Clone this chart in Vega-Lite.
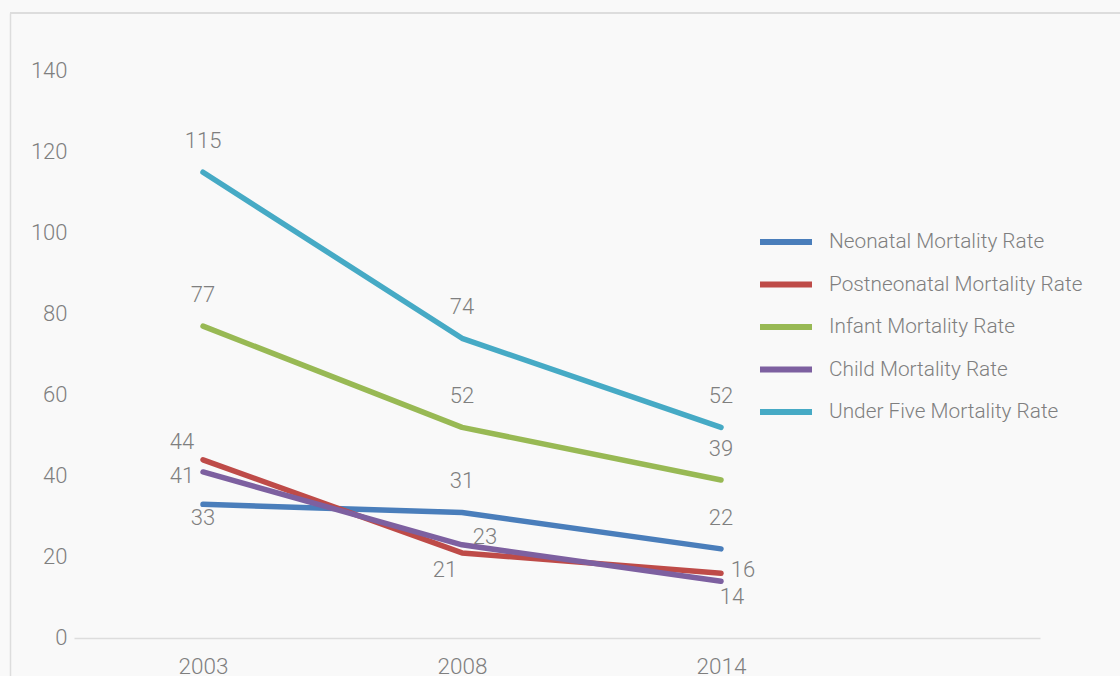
{
  "$schema": "https://vega.github.io/schema/vega-lite/v6.json",
  "width": 1110,
  "height": 663,
  "autosize": "none",
  "padding": {"left": 10, "top": 13, "right": 0, "bottom": 0},
  "background": "#f9f9f9",
  "config": {
    "view": {"stroke": null},
    "font": "Roboto",
    "text": {"font": "Roboto", "fontWeight": 300}
  },
  "data": {
    "values": [
      {"series": "Neonatal Mortality Rate", "year": "2003", "value": 33},
      {"series": "Neonatal Mortality Rate", "year": "2008", "value": 31},
      {"series": "Neonatal Mortality Rate", "year": "2014", "value": 22},
      {"series": "Postneonatal Mortality Rate", "year": "2003", "value": 44},
      {"series": "Postneonatal Mortality Rate", "year": "2008", "value": 21},
      {"series": "Postneonatal Mortality Rate", "year": "2014", "value": 16},
      {"series": "Infant Mortality Rate", "year": "2003", "value": 77},
      {"series": "Infant Mortality Rate", "year": "2008", "value": 52},
      {"series": "Infant Mortality Rate", "year": "2014", "value": 39},
      {"series": "Child Mortality Rate", "year": "2003", "value": 41},
      {"series": "Child Mortality Rate", "year": "2008", "value": 23},
      {"series": "Child Mortality Rate", "year": "2014", "value": 14},
      {"series": "Under Five Mortality Rate", "year": "2003", "value": 115},
      {"series": "Under Five Mortality Rate", "year": "2008", "value": 74},
      {"series": "Under Five Mortality Rate", "year": "2014", "value": 52}
    ]
  },
  "encoding": {
    "x": {
      "field": "year",
      "type": "ordinal",
      "scale": {"type": "point", "range": [64, 1030], "padding": 0.8649, "align": 0.288},
      "axis": {
        "title": null,
        "orient": "bottom",
        "offset": -38,
        "domainColor": "#dddddd",
        "domainWidth": 1.5,
        "ticks": false,
        "labelAngle": 0,
        "labelFontSize": 22.5,
        "labelFont": "Roboto",
        "labelFontWeight": 300,
        "labelColor": "#7f7f7f",
        "labelPadding": 17
      }
    },
    "y": {
      "field": "value",
      "type": "quantitative",
      "scale": {"domain": [-9.383, 154.32], "nice": false, "zero": false},
      "axis": {
        "title": null,
        "values": [0, 20, 40, 60, 80, 100, 120, 140],
        "grid": false,
        "ticks": false,
        "domainColor": "#dddddd",
        "domainWidth": 1.5,
        "labelPadding": -57,
        "labelFontSize": 22,
        "labelFont": "Roboto",
        "labelFontWeight": 300,
        "labelColor": "#7f7f7f"
      }
    }
  },
  "layer": [
    {
      "mark": {"type": "rule", "color": "#dddddd", "strokeWidth": 1.5},
      "encoding": {"x": null, "y": {"datum": 154.32, "type": "quantitative"}}
    },
    {
      "mark": {"type": "line", "strokeWidth": 5.5, "strokeCap": "round", "strokeJoin": "round"},
      "encoding": {
        "color": {
          "field": "series",
          "type": "nominal",
          "sort": ["Neonatal Mortality Rate", "Postneonatal Mortality Rate", "Infant Mortality Rate", "Child Mortality Rate", "Under Five Mortality Rate"],
          "scale": {
            "domain": ["Neonatal Mortality Rate", "Postneonatal Mortality Rate", "Infant Mortality Rate", "Child Mortality Rate", "Under Five Mortality Rate"],
            "range": ["#4a7ebb", "#be4b48", "#98b954", "#7d60a0", "#46aac5"]
          },
          "legend": {
            "title": null,
            "orient": "none",
            "legendX": 747,
            "legendY": 200,
            "padding": 0,
            "symbolType": "stroke",
            "symbolSize": 2704,
            "symbolStrokeWidth": 6,
            "labelFontSize": 20.8,
            "labelFont": "Roboto",
            "labelFontWeight": 300,
            "labelColor": "#7f7f7f",
            "labelOffset": 14,
            "labelLimit": 0,
            "rowPadding": 1.5
          }
        }
      }
    },
    {
      "transform": [{"filter": "datum.series != 'Postneonatal Mortality Rate' && datum.series != 'Child Mortality Rate' && !(datum.series == 'Neonatal Mortality Rate' && datum.year == '2003')"}],
      "mark": {"type": "text", "fontSize": 22, "color": "#7f7f7f", "baseline": "middle", "dy": -31},
      "encoding": {"text": {"field": "value"}}
    },
    {
      "transform": [{"filter": "datum.series == 'Neonatal Mortality Rate' && datum.year == '2003'"}],
      "mark": {"type": "text", "fontSize": 22, "color": "#7f7f7f", "baseline": "middle", "dy": 14},
      "encoding": {"text": {"field": "value"}}
    },
    {
      "transform": [{"filter": "datum.series == 'Postneonatal Mortality Rate' && datum.year == '2003'"}],
      "mark": {"type": "text", "fontSize": 22, "color": "#7f7f7f", "baseline": "middle", "dx": -21, "dy": -18},
      "encoding": {"text": {"field": "value"}}
    },
    {
      "transform": [{"filter": "datum.series == 'Child Mortality Rate' && datum.year == '2003'"}],
      "mark": {"type": "text", "fontSize": 22, "color": "#7f7f7f", "baseline": "middle", "dx": -21, "dy": 4},
      "encoding": {"text": {"field": "value"}}
    },
    {
      "transform": [{"filter": "datum.series == 'Child Mortality Rate' && datum.year == '2008'"}],
      "mark": {"type": "text", "fontSize": 22, "color": "#7f7f7f", "baseline": "middle", "dx": 23, "dy": -8},
      "encoding": {"text": {"field": "value"}}
    },
    {
      "transform": [{"filter": "datum.series == 'Postneonatal Mortality Rate' && datum.year == '2008'"}],
      "mark": {"type": "text", "fontSize": 22, "color": "#7f7f7f", "baseline": "middle", "dx": -17, "dy": 17},
      "encoding": {"text": {"field": "value"}}
    },
    {
      "transform": [{"filter": "datum.series == 'Postneonatal Mortality Rate' && datum.year == '2014'"}],
      "mark": {"type": "text", "fontSize": 22, "color": "#7f7f7f", "baseline": "middle", "dx": 22, "dy": -3},
      "encoding": {"text": {"field": "value"}}
    },
    {
      "transform": [{"filter": "datum.series == 'Child Mortality Rate' && datum.year == '2014'"}],
      "mark": {"type": "text", "fontSize": 22, "color": "#7f7f7f", "baseline": "middle", "dx": 11, "dy": 16},
      "encoding": {"text": {"field": "value"}}
    }
  ]
}
